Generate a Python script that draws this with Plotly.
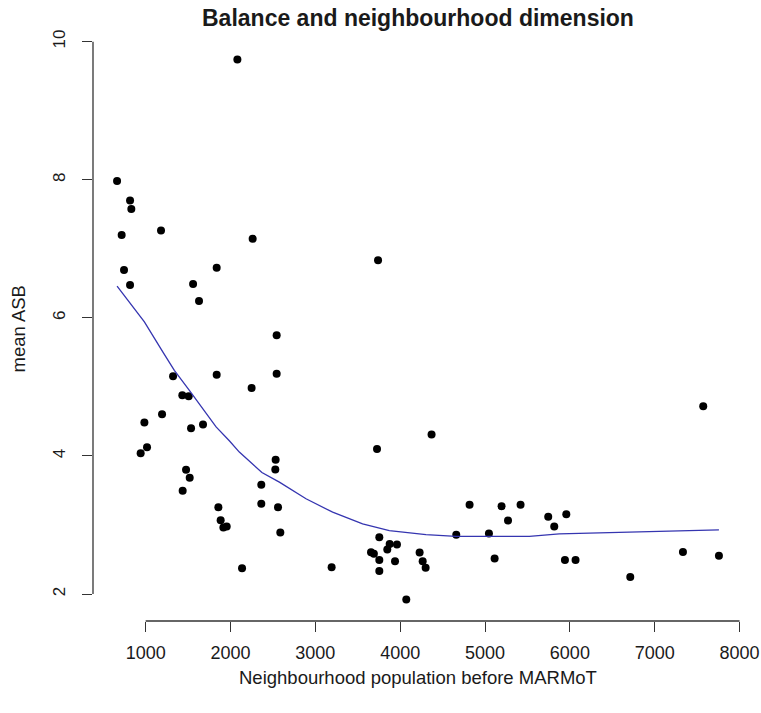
import plotly.graph_objects as go

# Scatter data: neighbourhood population vs mean ASB
population = [2081, 663, 816, 831, 717, 1181, 2261, 745, 1837, 816, 1559, 1629, 2544,
              1323, 1837, 2544, 2249, 1432, 1507, 1193, 985, 1535, 1676, 1016, 941,
              2532, 2528, 1476, 1519, 2363, 1436, 1857, 2363, 2560, 1884, 1916, 1955,
              2587, 2136, 3192, 3739, 4370, 3727, 4818, 5195, 5419, 5271, 5745, 5958,
              5816, 4661, 5046, 3754, 3656, 3690, 3876, 3848, 3962, 3754, 3939, 3754,
              4229, 4265, 4300, 4072, 5113, 5942, 6067, 7572, 6712, 7333, 7757]
mean_asb = [9.74, 7.98, 7.70, 7.575, 7.20, 7.265, 7.144, 6.694, 6.727, 6.476, 6.49, 6.244, 5.746,
            5.155, 5.174, 5.19, 4.985, 4.879, 4.865, 4.603, 4.483, 4.40, 4.454, 4.124, 4.037,
            3.946, 3.805, 3.80, 3.684, 3.583, 3.495, 3.257, 3.307, 3.257, 3.069, 2.963, 2.977,
            2.89, 2.372, 2.386, 6.835, 4.309, 4.10, 3.292, 3.272, 3.292, 3.064, 3.118, 3.156,
            2.977, 2.857, 2.876, 2.822, 2.604, 2.585, 2.726, 2.643, 2.716, 2.494, 2.473, 2.334,
            2.60, 2.473, 2.382, 1.922, 2.513, 2.494, 2.494, 4.72, 2.247, 2.61, 2.556]

# Smoothed (lowess) curve
smooth_x = [663, 985, 1200, 1338, 1515, 1830, 1986, 2104, 2370, 2576, 2890, 3204, 3557,
            3872, 4304, 4658, 5050, 5522, 5875, 6385, 7015, 7446, 7757]
smooth_y = [6.46, 5.94, 5.51, 5.24, 4.95, 4.42, 4.22, 4.056, 3.76, 3.62, 3.38, 3.185, 3.016,
            2.919, 2.861, 2.836, 2.836, 2.836, 2.871, 2.886, 2.905, 2.919, 2.929]

x_ticks = [1000, 2000, 3000, 4000, 5000, 6000, 7000, 8000]
y_ticks = [2, 4, 6, 8, 10]

title_text = "Balance and neighbourhood dimension"
x_label = "Neighbourhood population before MARMoT"
y_label = "mean ASB"

FONT = "Liberation Sans, Arial, sans-serif"
INK = "#1a1a1a"

def r_range(vals):
    lo, hi = min(vals), max(vals)
    pad = 0.04 * (hi - lo)
    return [lo - pad, hi + pad]

xr = r_range(population)
yr = r_range(mean_asb)

fig = go.Figure()
fig.add_trace(go.Scatter(x=population, y=mean_asb, mode="markers",
                         marker=dict(color="black", size=8), showlegend=False,
                         cliponaxis=False))
fig.add_trace(go.Scatter(x=smooth_x, y=smooth_y, mode="lines",
                         line=dict(color="#3535b0", width=1.3), showlegend=False))

# R-style axis lines spanning first to last tick
fig.add_shape(type="line", xref="x", yref="paper", x0=x_ticks[0], x1=x_ticks[-1], y0=0, y1=0,
              line=dict(color="#333333", width=1.3))
fig.add_shape(type="line", xref="paper", yref="y", x0=0, x1=0, y0=y_ticks[0], y1=y_ticks[-1],
              line=dict(color="#333333", width=1.3))

fig.update_layout(
    width=761, height=713,
    margin=dict(l=93, r=18, t=38, b=92, autoexpand=False),
    paper_bgcolor="white", plot_bgcolor="white",
    font=dict(family=FONT, color=INK),
    xaxis=dict(range=xr, tickmode="array", tickvals=x_ticks, ticktext=[str(v) for v in x_ticks],
               ticks="outside", ticklen=10, tickwidth=1.3, tickcolor="#333333",
               showgrid=False, zeroline=False, showline=False, automargin=False,
               tickfont=dict(size=18, family=FONT, color=INK), ticklabelstandoff=5),
    yaxis=dict(range=yr, tickmode="array", tickvals=y_ticks, ticktext=[str(v) for v in y_ticks],
               ticks="outside", ticklen=10, tickwidth=1.3, tickcolor="#333333",
               showgrid=False, zeroline=False, showline=False, tickangle=-90, automargin=False,
               tickfont=dict(size=17, family=FONT, color=INK), ticklabelstandoff=10),
    annotations=[
        dict(text="<b>" + title_text + "</b>", xref="paper", yref="paper", x=0.5, y=1,
             yshift=20, showarrow=False, font=dict(size=23, family=FONT, color=INK),
             xanchor="center", yanchor="middle"),
        dict(text=x_label, xref="paper", yref="paper", x=0.5, y=0, yshift=-56,
             showarrow=False, font=dict(size=18.5, family=FONT, color=INK),
             xanchor="center", yanchor="middle"),
        dict(text=y_label, xref="paper", yref="paper", x=0, y=0.5, xshift=-75,
             textangle=-90, showarrow=False, font=dict(size=18.5, family=FONT, color=INK),
             xanchor="center", yanchor="middle"),
    ],
)

fig.write_html("out.html", config={"displayModeBar": False},
               post_script="document.body.style.margin='0';document.body.style.overflow='hidden';")
